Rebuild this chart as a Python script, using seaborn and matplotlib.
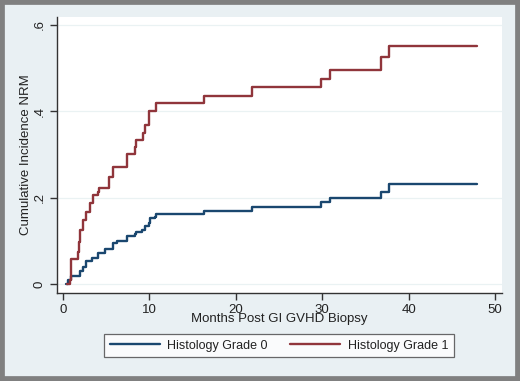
import numpy as np
import pandas as pd
import matplotlib
matplotlib.use('Agg')
import matplotlib.pyplot as plt
from matplotlib.lines import Line2D
from matplotlib.patches import Rectangle
import seaborn as sns

# Cumulative incidence of NRM (step functions)
grade0_months = [0.3, 0.6, 0.9, 2.0, 2.35, 2.7, 3.3, 4.1, 4.9, 5.8, 6.2, 7.4, 8.3, 8.5,
                 9.1, 9.5, 9.9, 10.1, 10.6, 10.8, 16.3, 21.9, 29.9, 30.9, 36.8, 37.7, 47.9]
grade0_cif = [0.0, 0.009, 0.019, 0.029, 0.040, 0.052, 0.060, 0.071, 0.080, 0.094, 0.100,
              0.110, 0.116, 0.121, 0.126, 0.133, 0.140, 0.152, 0.156, 0.162, 0.169, 0.178,
              0.190, 0.200, 0.213, 0.232, 0.232]

grade1_months = [0.4, 0.8, 0.9, 1.7, 1.8, 2.0, 2.3, 2.7, 3.1, 3.5, 4.0, 4.2, 5.3, 5.75,
                 5.8, 7.4, 8.3, 8.5, 9.3, 9.5, 10.0, 10.8, 16.3, 21.9, 29.9, 30.9, 36.8,
                 37.7, 47.9]
grade1_cif = [0.0, 0.010, 0.058, 0.075, 0.097, 0.125, 0.148, 0.167, 0.187, 0.205, 0.212,
              0.223, 0.247, 0.256, 0.270, 0.300, 0.318, 0.334, 0.350, 0.368, 0.400, 0.420,
              0.435, 0.455, 0.475, 0.496, 0.525, 0.552, 0.552]

group_names = ['Histology Grade 0', 'Histology Grade 1']
group_colors = ['#1a476f', '#90353b']

x_ticks = [0, 10, 20, 30, 40, 50]
y_ticks = [0, 0.2, 0.4, 0.6]
y_tick_labels = ['0', '.2', '.4', '.6']

df = pd.concat([
    pd.DataFrame({'months': grade0_months, 'cif': grade0_cif, 'group': group_names[0]}),
    pd.DataFrame({'months': grade1_months, 'cif': grade1_cif, 'group': group_names[1]}),
])

sns.set_theme(style='white')
plt.rcParams['font.family'] = ['Liberation Sans', 'DejaVu Sans']
txt = '#222222'
bg = '#e9f0f3'

fig = plt.figure(figsize=(5.2, 3.81), dpi=100, facecolor=bg)
ax = fig.add_axes([57 / 520, 1 - 293 / 381, 445 / 520, 276 / 381])
ax.set_facecolor('white')

sns.lineplot(data=df, x='months', y='cif', hue='group', palette=group_colors,
             hue_order=group_names, drawstyle='steps-post', linewidth=1.7,
             legend=False, ax=ax, zorder=3)

ax.set_xlim(-0.7, 50.8)
ax.set_ylim(-0.021, 0.618)
ax.set_xticks(x_ticks)
ax.set_yticks(y_ticks)
ax.set_yticklabels(y_tick_labels, rotation=90, va='center')
for y in y_ticks:
    ax.axhline(y, color='#eaf2f3', lw=0.9, zorder=1)

for s in ['top', 'right']:
    ax.spines[s].set_visible(False)
for s in ['left', 'bottom']:
    ax.spines[s].set_color('#333333')
    ax.spines[s].set_linewidth(1.0)
ax.tick_params(axis='both', direction='out', length=5, width=1.0, color='#333333',
               labelsize=9.5, labelcolor=txt, pad=3)
ax.tick_params(axis='x', bottom=True)
ax.tick_params(axis='y', left=True)

ax.set_xlabel('Months Post GI GVHD Biopsy', fontsize=9.5, color=txt, va='center')
ax.xaxis.set_label_coords(0.5, -0.093)
ax.set_ylabel('Cumulative Incidence NRM', fontsize=9.5, color=txt, va='center')
ax.yaxis.set_label_coords(-0.07, 0.5)

handles = [Line2D([0], [0], color=c, lw=1.7) for c in group_colors]
leg = fig.legend(handles, group_names, loc='center', bbox_to_anchor=(279 / 520, 1 - 345.5 / 381),
                 ncol=2, fontsize=9, frameon=True, fancybox=False, handlelength=4.0,
                 handletextpad=0.6, columnspacing=1.8, borderpad=0.45, labelcolor=txt)
leg.get_frame().set_edgecolor('#444444')
leg.get_frame().set_linewidth(0.9)
leg.get_frame().set_facecolor('white')

# outer gray frame
fig.patches.append(Rectangle((0, 0), 1, 1, transform=fig.transFigure, fill=False,
                             edgecolor='#808080', linewidth=7, zorder=10))

fig.savefig('out.png', dpi=100, facecolor=bg)
